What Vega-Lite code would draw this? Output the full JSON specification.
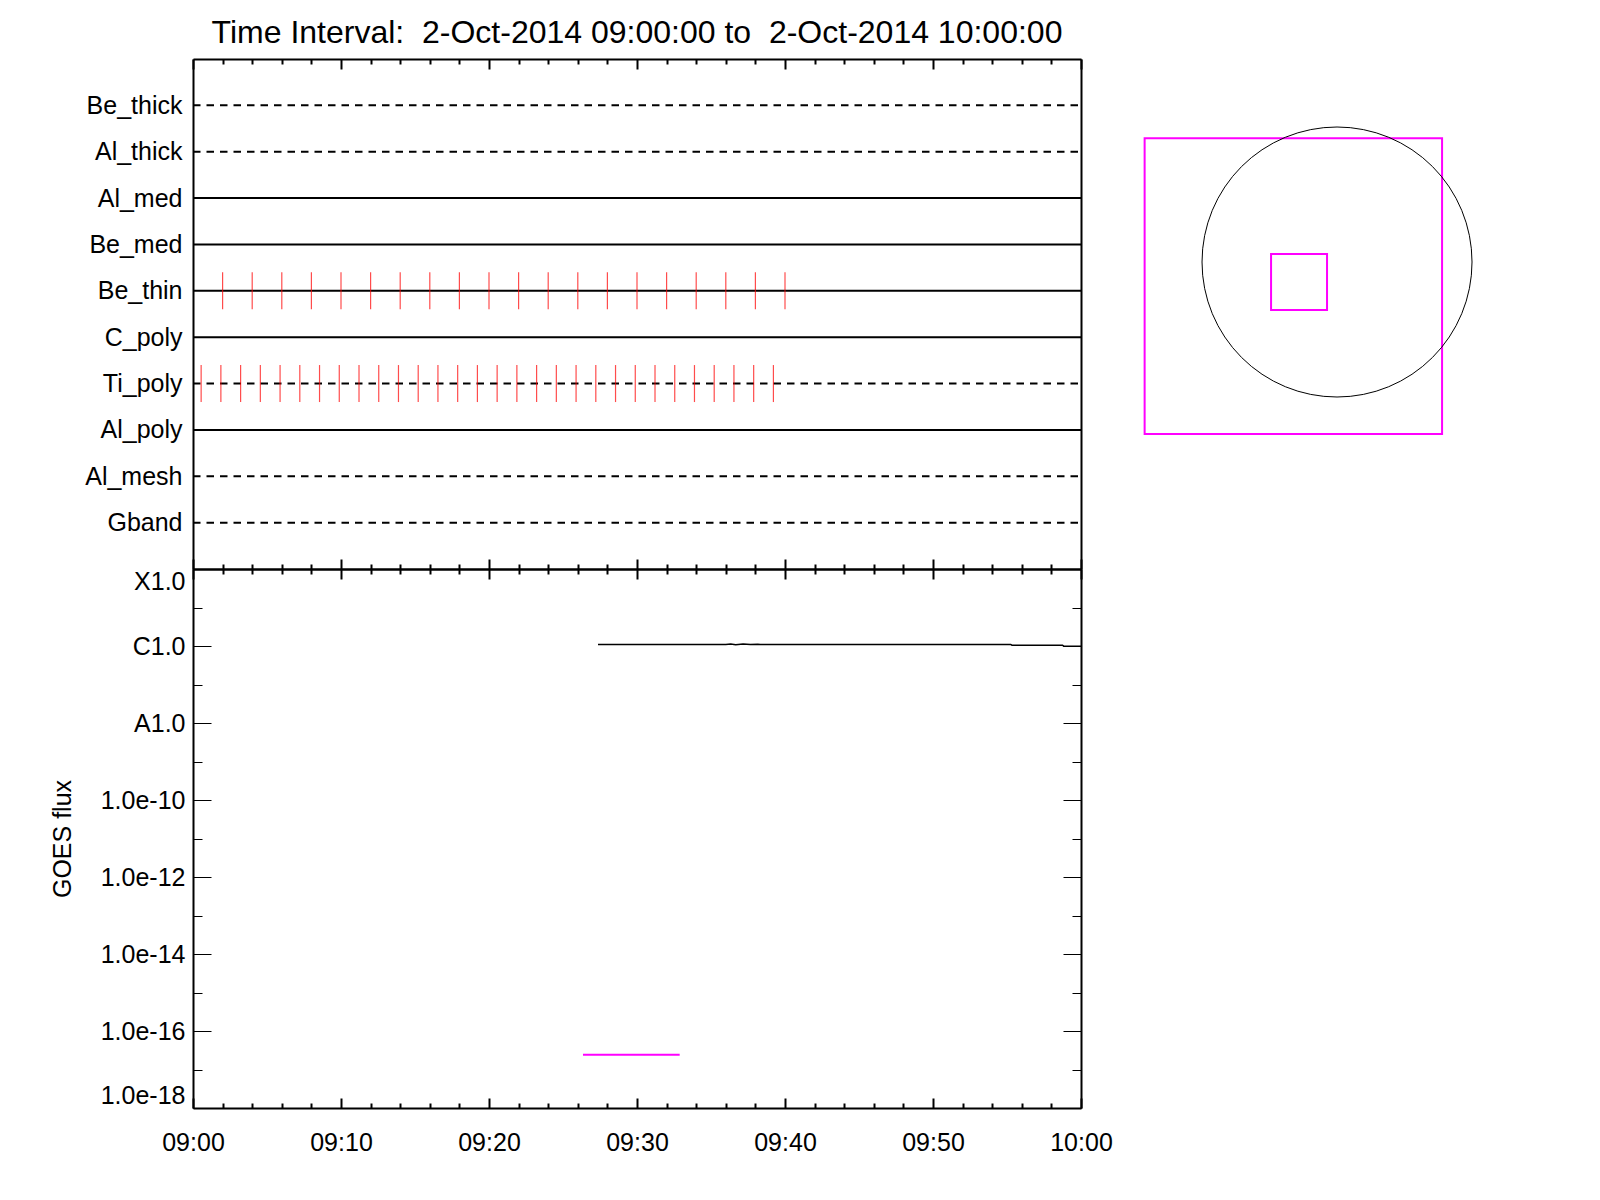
{
  "$schema": "https://vega.github.io/schema/vega-lite/v6.json",
  "padding": {"left": 50, "top": 17, "right": 5, "bottom": 5},
  "background": "white",
  "config": {
    "view": {"stroke": null},
    "font": "Liberation Sans",
    "axis": {
      "grid": false,
      "domainColor": "black",
      "domainWidth": 2,
      "tickColor": "black",
      "tickWidth": 2,
      "labelColor": "black",
      "titleColor": "black",
      "labelFont": "Liberation Sans",
      "titleFont": "Liberation Sans",
      "labelFontSize": 25,
      "titleFontSize": 25,
      "titleFontWeight": "normal"
    }
  },
  "datasets": {
    "filters": [
      {"filter": "Be_thick", "wheel": 2, "start": "2014-10-02T09:00:00", "end": "2014-10-02T10:00:00"},
      {"filter": "Al_thick", "wheel": 2, "start": "2014-10-02T09:00:00", "end": "2014-10-02T10:00:00"},
      {"filter": "Al_med", "wheel": 1, "start": "2014-10-02T09:00:00", "end": "2014-10-02T10:00:00"},
      {"filter": "Be_med", "wheel": 1, "start": "2014-10-02T09:00:00", "end": "2014-10-02T10:00:00"},
      {"filter": "Be_thin", "wheel": 1, "start": "2014-10-02T09:00:00", "end": "2014-10-02T10:00:00"},
      {"filter": "C_poly", "wheel": 1, "start": "2014-10-02T09:00:00", "end": "2014-10-02T10:00:00"},
      {"filter": "Ti_poly", "wheel": 2, "start": "2014-10-02T09:00:00", "end": "2014-10-02T10:00:00"},
      {"filter": "Al_poly", "wheel": 1, "start": "2014-10-02T09:00:00", "end": "2014-10-02T10:00:00"},
      {"filter": "Al_mesh", "wheel": 2, "start": "2014-10-02T09:00:00", "end": "2014-10-02T10:00:00"},
      {"filter": "Gband", "wheel": 2, "start": "2014-10-02T09:00:00", "end": "2014-10-02T10:00:00"}
    ],
    "images": [
      {"filter": "Be_thin", "time": "2014-10-02T09:02:00"},
      {"filter": "Be_thin", "time": "2014-10-02T09:04:00"},
      {"filter": "Be_thin", "time": "2014-10-02T09:06:00"},
      {"filter": "Be_thin", "time": "2014-10-02T09:08:00"},
      {"filter": "Be_thin", "time": "2014-10-02T09:10:00"},
      {"filter": "Be_thin", "time": "2014-10-02T09:12:00"},
      {"filter": "Be_thin", "time": "2014-10-02T09:14:00"},
      {"filter": "Be_thin", "time": "2014-10-02T09:16:00"},
      {"filter": "Be_thin", "time": "2014-10-02T09:18:00"},
      {"filter": "Be_thin", "time": "2014-10-02T09:20:00"},
      {"filter": "Be_thin", "time": "2014-10-02T09:22:00"},
      {"filter": "Be_thin", "time": "2014-10-02T09:24:00"},
      {"filter": "Be_thin", "time": "2014-10-02T09:26:00"},
      {"filter": "Be_thin", "time": "2014-10-02T09:28:00"},
      {"filter": "Be_thin", "time": "2014-10-02T09:30:00"},
      {"filter": "Be_thin", "time": "2014-10-02T09:32:00"},
      {"filter": "Be_thin", "time": "2014-10-02T09:34:00"},
      {"filter": "Be_thin", "time": "2014-10-02T09:36:00"},
      {"filter": "Be_thin", "time": "2014-10-02T09:38:00"},
      {"filter": "Be_thin", "time": "2014-10-02T09:40:00"},
      {"filter": "Ti_poly", "time": "2014-10-02T09:00:33"},
      {"filter": "Ti_poly", "time": "2014-10-02T09:01:53"},
      {"filter": "Ti_poly", "time": "2014-10-02T09:03:13"},
      {"filter": "Ti_poly", "time": "2014-10-02T09:04:33"},
      {"filter": "Ti_poly", "time": "2014-10-02T09:05:53"},
      {"filter": "Ti_poly", "time": "2014-10-02T09:07:13"},
      {"filter": "Ti_poly", "time": "2014-10-02T09:08:33"},
      {"filter": "Ti_poly", "time": "2014-10-02T09:09:53"},
      {"filter": "Ti_poly", "time": "2014-10-02T09:11:13"},
      {"filter": "Ti_poly", "time": "2014-10-02T09:12:33"},
      {"filter": "Ti_poly", "time": "2014-10-02T09:13:53"},
      {"filter": "Ti_poly", "time": "2014-10-02T09:15:13"},
      {"filter": "Ti_poly", "time": "2014-10-02T09:16:33"},
      {"filter": "Ti_poly", "time": "2014-10-02T09:17:53"},
      {"filter": "Ti_poly", "time": "2014-10-02T09:19:13"},
      {"filter": "Ti_poly", "time": "2014-10-02T09:20:33"},
      {"filter": "Ti_poly", "time": "2014-10-02T09:21:53"},
      {"filter": "Ti_poly", "time": "2014-10-02T09:23:13"},
      {"filter": "Ti_poly", "time": "2014-10-02T09:24:33"},
      {"filter": "Ti_poly", "time": "2014-10-02T09:25:53"},
      {"filter": "Ti_poly", "time": "2014-10-02T09:27:13"},
      {"filter": "Ti_poly", "time": "2014-10-02T09:28:33"},
      {"filter": "Ti_poly", "time": "2014-10-02T09:29:53"},
      {"filter": "Ti_poly", "time": "2014-10-02T09:31:13"},
      {"filter": "Ti_poly", "time": "2014-10-02T09:32:33"},
      {"filter": "Ti_poly", "time": "2014-10-02T09:33:53"},
      {"filter": "Ti_poly", "time": "2014-10-02T09:35:13"},
      {"filter": "Ti_poly", "time": "2014-10-02T09:36:33"},
      {"filter": "Ti_poly", "time": "2014-10-02T09:37:53"},
      {"filter": "Ti_poly", "time": "2014-10-02T09:39:13"}
    ],
    "goes": [
      {"time": "2014-10-02T09:27:22", "flux": 1.10e-6},
      {"time": "2014-10-02T09:36:00", "flux": 1.10e-6},
      {"time": "2014-10-02T09:36:20", "flux": 1.13e-6},
      {"time": "2014-10-02T09:36:40", "flux": 1.08e-6},
      {"time": "2014-10-02T09:37:10", "flux": 1.12e-6},
      {"time": "2014-10-02T09:37:40", "flux": 1.09e-6},
      {"time": "2014-10-02T09:38:10", "flux": 1.11e-6},
      {"time": "2014-10-02T09:38:20", "flux": 1.10e-6},
      {"time": "2014-10-02T09:55:15", "flux": 1.10e-6},
      {"time": "2014-10-02T09:55:20", "flux": 1.05e-6},
      {"time": "2014-10-02T09:58:45", "flux": 1.05e-6},
      {"time": "2014-10-02T09:58:50", "flux": 0.99e-6},
      {"time": "2014-10-02T10:00:00", "flux": 0.99e-6}
    ],
    "marker": [
      {"time": "2014-10-02T09:26:21", "flux": 2.4e-17},
      {"time": "2014-10-02T09:32:53", "flux": 2.4e-17}
    ],
    "fov": [
      {"name": "full", "x1": -1368, "x2": 747, "y1": -1223, "y2": 880},
      {"name": "zoom", "x1": -469, "x2": -71, "y1": -341, "y2": 57}
    ],
    "sun": [
      {"x": 0, "y": 0, "radius": 960}
    ]
  },
  "columns": 2,
  "spacing": {"row": 0, "column": 40},
  "bounds": "flush",
  "align": "each",
  "center": false,
  "concat": [
    {
      "width": 888,
      "height": 510,
      "title": {
        "text": "Time Interval:\u00a0 2-Oct-2014 09:00:00 to\u00a0 2-Oct-2014 10:00:00",
        "font": "Liberation Sans",
        "fontSize": 32,
        "fontWeight": "normal",
        "color": "black",
        "anchor": "middle",
        "frame": "group",
        "baseline": "alphabetic",
        "offset": -17
      },
      "resolve": {"axis": {"x": "independent", "y": "independent"}},
      "layer": [
        {
          "data": {"name": "filters"},
          "mark": {"type": "rule", "color": "black", "strokeWidth": 2},
          "encoding": {
            "x": {
              "field": "start", "type": "temporal",
              "scale": {"domain": [{"year": 2014, "month": 10, "date": 2, "hours": 9}, {"year": 2014, "month": 10, "date": 2, "hours": 10}]},
              "axis": {
                "orient": "top", "labels": false, "title": null, "tickSize": -10,
                "values": [
                  {"year": 2014, "month": 10, "date": 2, "hours": 9, "minutes": 0},
                  {"year": 2014, "month": 10, "date": 2, "hours": 9, "minutes": 10},
                  {"year": 2014, "month": 10, "date": 2, "hours": 9, "minutes": 20},
                  {"year": 2014, "month": 10, "date": 2, "hours": 9, "minutes": 30},
                  {"year": 2014, "month": 10, "date": 2, "hours": 9, "minutes": 40},
                  {"year": 2014, "month": 10, "date": 2, "hours": 9, "minutes": 50},
                  {"year": 2014, "month": 10, "date": 2, "hours": 10, "minutes": 0}
                ]
              }
            },
            "x2": {"field": "end"},
            "y": {
              "field": "filter", "type": "nominal",
              "scale": {"type": "point", "padding": 1, "domain": ["Be_thick", "Al_thick", "Al_med", "Be_med", "Be_thin", "C_poly", "Ti_poly", "Al_poly", "Al_mesh", "Gband"]},
              "axis": {"orient": "left", "ticks": false, "labelPadding": 11, "title": null}
            },
            "strokeDash": {
              "field": "wheel", "type": "nominal",
              "scale": {"domain": [1, 2], "range": [[1, 0], [7.5, 6]]},
              "legend": null
            }
          }
        },
        {
          "data": {"name": "images"},
          "mark": {"type": "tick", "color": "#ff0000", "size": 37, "thickness": 1.2},
          "encoding": {
            "x": {
              "field": "time", "type": "temporal",
              "axis": {
                "orient": "top", "labels": false, "domain": false, "title": null, "tickSize": -5,
                "values": [
                  {"year": 2014, "month": 10, "date": 2, "hours": 9, "minutes": 2},
                  {"year": 2014, "month": 10, "date": 2, "hours": 9, "minutes": 4},
                  {"year": 2014, "month": 10, "date": 2, "hours": 9, "minutes": 6},
                  {"year": 2014, "month": 10, "date": 2, "hours": 9, "minutes": 8},
                  {"year": 2014, "month": 10, "date": 2, "hours": 9, "minutes": 12},
                  {"year": 2014, "month": 10, "date": 2, "hours": 9, "minutes": 14},
                  {"year": 2014, "month": 10, "date": 2, "hours": 9, "minutes": 16},
                  {"year": 2014, "month": 10, "date": 2, "hours": 9, "minutes": 18},
                  {"year": 2014, "month": 10, "date": 2, "hours": 9, "minutes": 22},
                  {"year": 2014, "month": 10, "date": 2, "hours": 9, "minutes": 24},
                  {"year": 2014, "month": 10, "date": 2, "hours": 9, "minutes": 26},
                  {"year": 2014, "month": 10, "date": 2, "hours": 9, "minutes": 28},
                  {"year": 2014, "month": 10, "date": 2, "hours": 9, "minutes": 32},
                  {"year": 2014, "month": 10, "date": 2, "hours": 9, "minutes": 34},
                  {"year": 2014, "month": 10, "date": 2, "hours": 9, "minutes": 36},
                  {"year": 2014, "month": 10, "date": 2, "hours": 9, "minutes": 38},
                  {"year": 2014, "month": 10, "date": 2, "hours": 9, "minutes": 42},
                  {"year": 2014, "month": 10, "date": 2, "hours": 9, "minutes": 44},
                  {"year": 2014, "month": 10, "date": 2, "hours": 9, "minutes": 46},
                  {"year": 2014, "month": 10, "date": 2, "hours": 9, "minutes": 48},
                  {"year": 2014, "month": 10, "date": 2, "hours": 9, "minutes": 52},
                  {"year": 2014, "month": 10, "date": 2, "hours": 9, "minutes": 54},
                  {"year": 2014, "month": 10, "date": 2, "hours": 9, "minutes": 56},
                  {"year": 2014, "month": 10, "date": 2, "hours": 9, "minutes": 58}
                ]
              }
            },
            "y": {
              "field": "filter", "type": "nominal",
              "axis": {"orient": "right", "ticks": false, "labels": false, "title": null}
            }
          }
        },
        {
          "data": {"name": "filters"},
          "mark": {"type": "rule", "strokeOpacity": 0},
          "encoding": {
            "x": {
              "field": "start", "type": "temporal",
              "axis": {
                "orient": "bottom", "labels": false, "title": null, "tickSize": -10,
                "values": [
                  {"year": 2014, "month": 10, "date": 2, "hours": 9, "minutes": 0},
                  {"year": 2014, "month": 10, "date": 2, "hours": 9, "minutes": 10},
                  {"year": 2014, "month": 10, "date": 2, "hours": 9, "minutes": 20},
                  {"year": 2014, "month": 10, "date": 2, "hours": 9, "minutes": 30},
                  {"year": 2014, "month": 10, "date": 2, "hours": 9, "minutes": 40},
                  {"year": 2014, "month": 10, "date": 2, "hours": 9, "minutes": 50},
                  {"year": 2014, "month": 10, "date": 2, "hours": 10, "minutes": 0}
                ]
              }
            },
            "x2": {"field": "end"},
            "y": {"field": "filter", "type": "nominal", "axis": null}
          }
        },
        {
          "data": {"name": "filters"},
          "mark": {"type": "rule", "strokeOpacity": 0},
          "encoding": {
            "x": {
              "field": "start", "type": "temporal",
              "axis": {
                "orient": "bottom", "labels": false, "domain": false, "title": null, "tickSize": -5,
                "values": [
                  {"year": 2014, "month": 10, "date": 2, "hours": 9, "minutes": 2},
                  {"year": 2014, "month": 10, "date": 2, "hours": 9, "minutes": 4},
                  {"year": 2014, "month": 10, "date": 2, "hours": 9, "minutes": 6},
                  {"year": 2014, "month": 10, "date": 2, "hours": 9, "minutes": 8},
                  {"year": 2014, "month": 10, "date": 2, "hours": 9, "minutes": 12},
                  {"year": 2014, "month": 10, "date": 2, "hours": 9, "minutes": 14},
                  {"year": 2014, "month": 10, "date": 2, "hours": 9, "minutes": 16},
                  {"year": 2014, "month": 10, "date": 2, "hours": 9, "minutes": 18},
                  {"year": 2014, "month": 10, "date": 2, "hours": 9, "minutes": 22},
                  {"year": 2014, "month": 10, "date": 2, "hours": 9, "minutes": 24},
                  {"year": 2014, "month": 10, "date": 2, "hours": 9, "minutes": 26},
                  {"year": 2014, "month": 10, "date": 2, "hours": 9, "minutes": 28},
                  {"year": 2014, "month": 10, "date": 2, "hours": 9, "minutes": 32},
                  {"year": 2014, "month": 10, "date": 2, "hours": 9, "minutes": 34},
                  {"year": 2014, "month": 10, "date": 2, "hours": 9, "minutes": 36},
                  {"year": 2014, "month": 10, "date": 2, "hours": 9, "minutes": 38},
                  {"year": 2014, "month": 10, "date": 2, "hours": 9, "minutes": 42},
                  {"year": 2014, "month": 10, "date": 2, "hours": 9, "minutes": 44},
                  {"year": 2014, "month": 10, "date": 2, "hours": 9, "minutes": 46},
                  {"year": 2014, "month": 10, "date": 2, "hours": 9, "minutes": 48},
                  {"year": 2014, "month": 10, "date": 2, "hours": 9, "minutes": 52},
                  {"year": 2014, "month": 10, "date": 2, "hours": 9, "minutes": 54},
                  {"year": 2014, "month": 10, "date": 2, "hours": 9, "minutes": 56},
                  {"year": 2014, "month": 10, "date": 2, "hours": 9, "minutes": 58}
                ]
              }
            },
            "x2": {"field": "end"},
            "y": {"field": "filter", "type": "nominal", "axis": null}
          }
        }
      ]
    },
    {
      "width": 380,
      "height": 420,
      "layer": [
        {
          "data": {"name": "fov"},
          "mark": {"type": "rect", "filled": false, "color": "#ff00ff", "strokeWidth": 2},
          "encoding": {
            "x": {"field": "x1", "type": "quantitative", "scale": {"domain": [-1536, 1166], "nice": false, "zero": false}, "axis": null},
            "x2": {"field": "x2"},
            "y": {"field": "y1", "type": "quantitative", "scale": {"domain": [-1543, 1443.5], "nice": false, "zero": false}, "axis": null},
            "y2": {"field": "y2"}
          }
        },
        {
          "data": {"name": "sun"},
          "mark": {"type": "point", "shape": "circle", "filled": false, "color": "black", "strokeWidth": 1, "opacity": 1, "size": 72900},
          "encoding": {
            "x": {"field": "x", "type": "quantitative"},
            "y": {"field": "y", "type": "quantitative"}
          }
        }
      ]
    },
    {
      "width": 888,
      "height": 539,
      "resolve": {"axis": {"x": "independent", "y": "independent"}},
      "layer": [
        {
          "data": {"name": "goes"},
          "mark": {"type": "line", "color": "black", "strokeWidth": 1.5},
          "encoding": {
            "x": {
              "field": "time", "type": "temporal",
              "scale": {"domain": [{"year": 2014, "month": 10, "date": 2, "hours": 9}, {"year": 2014, "month": 10, "date": 2, "hours": 10}]},
              "axis": {
                "orient": "bottom", "ticks": false, "format": "%H:%M", "labelPadding": 22, "labelFlush": false, "title": null,
                "values": [
                  {"year": 2014, "month": 10, "date": 2, "hours": 9, "minutes": 0},
                  {"year": 2014, "month": 10, "date": 2, "hours": 9, "minutes": 10},
                  {"year": 2014, "month": 10, "date": 2, "hours": 9, "minutes": 20},
                  {"year": 2014, "month": 10, "date": 2, "hours": 9, "minutes": 30},
                  {"year": 2014, "month": 10, "date": 2, "hours": 9, "minutes": 40},
                  {"year": 2014, "month": 10, "date": 2, "hours": 9, "minutes": 50},
                  {"year": 2014, "month": 10, "date": 2, "hours": 10, "minutes": 0}
                ]
              }
            },
            "y": {
              "field": "flux", "type": "quantitative",
              "scale": {"type": "log", "domain": [1e-18, 1e-4], "nice": false},
              "axis": {
                "orient": "left", "ticks": false, "labelPadding": 8, "labelFlush": true,
                "values": [1e-18, 1e-16, 1e-14, 1e-12, 1e-10, 1e-8, 1e-6, 1e-4],
                "labelExpr": "datum.value > 0.00005 ? 'X1.0' : datum.value > 0.0000005 ? 'C1.0' : datum.value > 0.000000005 ? 'A1.0' : format(datum.value, '.1e')",
                "title": "GOES flux", "titlePadding": 25
              }
            }
          }
        },
        {
          "data": {"name": "marker"},
          "mark": {"type": "line", "color": "#ff00ff", "strokeWidth": 2},
          "encoding": {
            "x": {
              "field": "time", "type": "temporal",
              "axis": {
                "orient": "bottom", "labels": false, "domain": false, "title": null, "tickSize": -10,
                "values": [
                  {"year": 2014, "month": 10, "date": 2, "hours": 9, "minutes": 0},
                  {"year": 2014, "month": 10, "date": 2, "hours": 9, "minutes": 10},
                  {"year": 2014, "month": 10, "date": 2, "hours": 9, "minutes": 20},
                  {"year": 2014, "month": 10, "date": 2, "hours": 9, "minutes": 30},
                  {"year": 2014, "month": 10, "date": 2, "hours": 9, "minutes": 40},
                  {"year": 2014, "month": 10, "date": 2, "hours": 9, "minutes": 50},
                  {"year": 2014, "month": 10, "date": 2, "hours": 10, "minutes": 0}
                ]
              }
            },
            "y": {
              "field": "flux", "type": "quantitative",
              "axis": {"orient": "left", "labels": false, "domain": false, "title": null, "tickWidth": 1, "tickSize": -18, "values": [1e-18, 1e-16, 1e-14, 1e-12, 1e-10, 1e-8, 1e-6, 1e-4]}
            }
          }
        },
        {
          "data": {"name": "goes"},
          "mark": {"type": "line", "strokeOpacity": 0},
          "encoding": {
            "x": {
              "field": "time", "type": "temporal",
              "axis": {
                "orient": "bottom", "labels": false, "domain": false, "title": null, "tickSize": -5,
                "values": [
                  {"year": 2014, "month": 10, "date": 2, "hours": 9, "minutes": 2},
                  {"year": 2014, "month": 10, "date": 2, "hours": 9, "minutes": 4},
                  {"year": 2014, "month": 10, "date": 2, "hours": 9, "minutes": 6},
                  {"year": 2014, "month": 10, "date": 2, "hours": 9, "minutes": 8},
                  {"year": 2014, "month": 10, "date": 2, "hours": 9, "minutes": 12},
                  {"year": 2014, "month": 10, "date": 2, "hours": 9, "minutes": 14},
                  {"year": 2014, "month": 10, "date": 2, "hours": 9, "minutes": 16},
                  {"year": 2014, "month": 10, "date": 2, "hours": 9, "minutes": 18},
                  {"year": 2014, "month": 10, "date": 2, "hours": 9, "minutes": 22},
                  {"year": 2014, "month": 10, "date": 2, "hours": 9, "minutes": 24},
                  {"year": 2014, "month": 10, "date": 2, "hours": 9, "minutes": 26},
                  {"year": 2014, "month": 10, "date": 2, "hours": 9, "minutes": 28},
                  {"year": 2014, "month": 10, "date": 2, "hours": 9, "minutes": 32},
                  {"year": 2014, "month": 10, "date": 2, "hours": 9, "minutes": 34},
                  {"year": 2014, "month": 10, "date": 2, "hours": 9, "minutes": 36},
                  {"year": 2014, "month": 10, "date": 2, "hours": 9, "minutes": 38},
                  {"year": 2014, "month": 10, "date": 2, "hours": 9, "minutes": 42},
                  {"year": 2014, "month": 10, "date": 2, "hours": 9, "minutes": 44},
                  {"year": 2014, "month": 10, "date": 2, "hours": 9, "minutes": 46},
                  {"year": 2014, "month": 10, "date": 2, "hours": 9, "minutes": 48},
                  {"year": 2014, "month": 10, "date": 2, "hours": 9, "minutes": 52},
                  {"year": 2014, "month": 10, "date": 2, "hours": 9, "minutes": 54},
                  {"year": 2014, "month": 10, "date": 2, "hours": 9, "minutes": 56},
                  {"year": 2014, "month": 10, "date": 2, "hours": 9, "minutes": 58}
                ]
              }
            },
            "y": {
              "field": "flux", "type": "quantitative",
              "axis": {"orient": "left", "labels": false, "domain": false, "title": null, "tickWidth": 1, "tickSize": -9, "values": [1e-17, 1e-15, 1e-13, 1e-11, 1e-9, 1e-7, 1e-5]}
            }
          }
        },
        {
          "data": {"name": "goes"},
          "mark": {"type": "line", "strokeOpacity": 0},
          "encoding": {
            "x": {
              "field": "time", "type": "temporal",
              "axis": {
                "orient": "top", "labels": false, "title": null, "tickSize": -10,
                "values": [
                  {"year": 2014, "month": 10, "date": 2, "hours": 9, "minutes": 0},
                  {"year": 2014, "month": 10, "date": 2, "hours": 9, "minutes": 10},
                  {"year": 2014, "month": 10, "date": 2, "hours": 9, "minutes": 20},
                  {"year": 2014, "month": 10, "date": 2, "hours": 9, "minutes": 30},
                  {"year": 2014, "month": 10, "date": 2, "hours": 9, "minutes": 40},
                  {"year": 2014, "month": 10, "date": 2, "hours": 9, "minutes": 50},
                  {"year": 2014, "month": 10, "date": 2, "hours": 10, "minutes": 0}
                ]
              }
            },
            "y": {
              "field": "flux", "type": "quantitative",
              "axis": {"orient": "right", "labels": false, "title": null, "tickWidth": 1, "tickSize": -18, "values": [1e-18, 1e-16, 1e-14, 1e-12, 1e-10, 1e-8, 1e-6, 1e-4]}
            }
          }
        },
        {
          "data": {"name": "goes"},
          "mark": {"type": "line", "strokeOpacity": 0},
          "encoding": {
            "x": {
              "field": "time", "type": "temporal",
              "axis": {
                "orient": "top", "labels": false, "domain": false, "title": null, "tickSize": -5,
                "values": [
                  {"year": 2014, "month": 10, "date": 2, "hours": 9, "minutes": 2},
                  {"year": 2014, "month": 10, "date": 2, "hours": 9, "minutes": 4},
                  {"year": 2014, "month": 10, "date": 2, "hours": 9, "minutes": 6},
                  {"year": 2014, "month": 10, "date": 2, "hours": 9, "minutes": 8},
                  {"year": 2014, "month": 10, "date": 2, "hours": 9, "minutes": 12},
                  {"year": 2014, "month": 10, "date": 2, "hours": 9, "minutes": 14},
                  {"year": 2014, "month": 10, "date": 2, "hours": 9, "minutes": 16},
                  {"year": 2014, "month": 10, "date": 2, "hours": 9, "minutes": 18},
                  {"year": 2014, "month": 10, "date": 2, "hours": 9, "minutes": 22},
                  {"year": 2014, "month": 10, "date": 2, "hours": 9, "minutes": 24},
                  {"year": 2014, "month": 10, "date": 2, "hours": 9, "minutes": 26},
                  {"year": 2014, "month": 10, "date": 2, "hours": 9, "minutes": 28},
                  {"year": 2014, "month": 10, "date": 2, "hours": 9, "minutes": 32},
                  {"year": 2014, "month": 10, "date": 2, "hours": 9, "minutes": 34},
                  {"year": 2014, "month": 10, "date": 2, "hours": 9, "minutes": 36},
                  {"year": 2014, "month": 10, "date": 2, "hours": 9, "minutes": 38},
                  {"year": 2014, "month": 10, "date": 2, "hours": 9, "minutes": 42},
                  {"year": 2014, "month": 10, "date": 2, "hours": 9, "minutes": 44},
                  {"year": 2014, "month": 10, "date": 2, "hours": 9, "minutes": 46},
                  {"year": 2014, "month": 10, "date": 2, "hours": 9, "minutes": 48},
                  {"year": 2014, "month": 10, "date": 2, "hours": 9, "minutes": 52},
                  {"year": 2014, "month": 10, "date": 2, "hours": 9, "minutes": 54},
                  {"year": 2014, "month": 10, "date": 2, "hours": 9, "minutes": 56},
                  {"year": 2014, "month": 10, "date": 2, "hours": 9, "minutes": 58}
                ]
              }
            },
            "y": {
              "field": "flux", "type": "quantitative",
              "axis": {"orient": "right", "labels": false, "domain": false, "title": null, "tickWidth": 1, "tickSize": -9, "values": [1e-17, 1e-15, 1e-13, 1e-11, 1e-9, 1e-7, 1e-5]}
            }
          }
        }
      ]
    }
  ]
}
